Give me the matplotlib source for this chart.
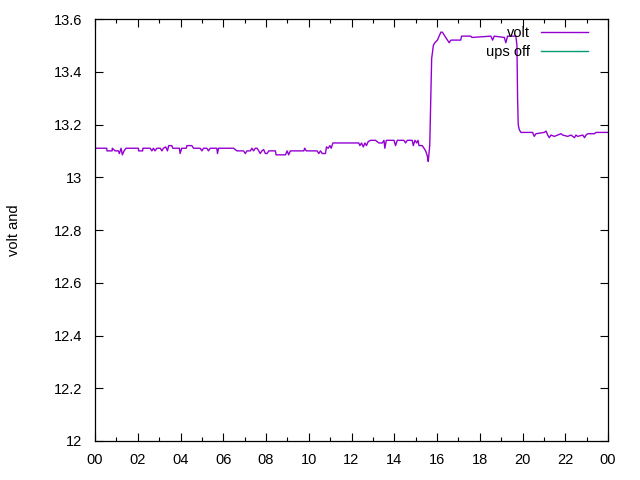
import matplotlib
matplotlib.use("Agg")
import matplotlib.pyplot as plt
from matplotlib.ticker import MultipleLocator, FixedLocator

plt.rcParams['font.family'] = ['Liberation Sans', 'DejaVu Sans']

# hours since midnight, battery voltage
hours = [0.0, 0.55, 0.56, 0.80, 0.81, 0.94, 1.09, 1.14, 1.22, 1.28, 1.36, 1.45,
         2.03, 2.04, 2.23, 2.24, 2.58, 2.66, 2.73, 2.81, 2.89, 3.05, 3.13, 3.20,
         3.31, 3.39, 3.45, 3.59, 3.64, 3.95, 3.98, 4.06, 4.27, 4.30, 4.53, 4.61,
         4.92, 5.00, 5.08, 5.23, 5.31, 5.39, 5.70, 5.73, 5.78, 6.48, 6.56, 6.64,
         6.95, 7.03, 7.11, 7.27, 7.34, 7.42, 7.50, 7.58, 7.66, 7.73, 7.81, 7.89,
         7.97, 8.05, 8.13, 8.44, 8.47, 8.91, 8.99, 9.06, 9.14, 9.77, 9.81, 9.88,
         10.39, 10.47, 10.55, 10.63, 10.78, 10.83, 10.91, 10.99, 11.05, 11.13,
         12.34, 12.39, 12.47, 12.55, 12.63, 12.70, 12.78, 12.89, 13.13, 13.20,
         13.28, 13.44, 13.52, 13.56, 13.63, 13.99, 14.06, 14.14, 14.45, 14.53,
         14.61, 14.84, 14.89, 14.97, 15.05, 15.11, 15.16, 15.31, 15.39, 15.47,
         15.55, 15.59, 15.66, 15.71, 15.75, 15.83, 15.90, 16.02, 16.18, 16.25,
         16.33, 16.49, 16.57, 16.65, 17.11, 17.15, 17.58, 17.63, 18.52, 18.60,
         18.68, 19.15, 19.22, 19.30, 19.69, 19.74, 19.77, 19.80, 19.85, 19.93,
         20.47, 20.55, 20.63, 21.02, 21.10, 21.18, 21.25, 21.33, 21.49, 21.65,
         21.80, 21.88, 22.11, 22.27, 22.43, 22.50, 22.58, 22.82, 22.90, 22.97,
         23.05, 23.36, 23.44, 24.0]
volt = [13.11, 13.11, 13.10, 13.10, 13.11, 13.10, 13.10, 13.09, 13.11, 13.085, 13.10, 13.11,
        13.11, 13.10, 13.10, 13.11, 13.11, 13.10, 13.11, 13.10, 13.11, 13.11, 13.10, 13.11,
        13.115, 13.10, 13.12, 13.12, 13.11, 13.11, 13.09, 13.11, 13.11, 13.12, 13.12, 13.11,
        13.11, 13.10, 13.11, 13.11, 13.10, 13.11, 13.11, 13.09, 13.11, 13.11, 13.105, 13.10,
        13.10, 13.09, 13.10, 13.10, 13.11, 13.10, 13.11, 13.11, 13.10, 13.09, 13.10, 13.105,
        13.09, 13.09, 13.10, 13.10, 13.085, 13.085, 13.10, 13.085, 13.10, 13.10, 13.11, 13.10,
        13.10, 13.09, 13.10, 13.09, 13.09, 13.115, 13.11, 13.12, 13.11, 13.13,
        13.13, 13.12, 13.13, 13.115, 13.13, 13.12, 13.135, 13.14, 13.14, 13.135,
        13.13, 13.13, 13.14, 13.11, 13.14, 13.14, 13.12, 13.14, 13.14, 13.13,
        13.14, 13.14, 13.12, 13.14, 13.13, 13.14, 13.12, 13.12, 13.11, 13.10,
        13.08, 13.06, 13.12, 13.30, 13.45, 13.50, 13.51, 13.52, 13.55, 13.55,
        13.54, 13.52, 13.51, 13.52, 13.52, 13.535, 13.535, 13.53, 13.535, 13.52,
        13.535, 13.53, 13.51, 13.535, 13.535, 13.50, 13.30, 13.20, 13.18, 13.17,
        13.17, 13.155, 13.165, 13.17, 13.175, 13.16, 13.15, 13.16, 13.155, 13.16,
        13.165, 13.16, 13.155, 13.16, 13.15, 13.16, 13.155, 13.16, 13.15, 13.16,
        13.165, 13.165, 13.17, 13.17]
ups_off_hours = []
ups_off_volt = []

xticklabels = ['00', '02', '04', '06', '08', '10', '12', '14', '16', '18', '20', '22', '00']
yticks = [12, 12.2, 12.4, 12.6, 12.8, 13, 13.2, 13.4, 13.6]
yticklabels = ['12', '12.2', '12.4', '12.6', '12.8', '13', '13.2', '13.4', '13.6']

fig = plt.figure(figsize=(6.4, 4.8), dpi=100)
ax = fig.add_axes([95/640, 1 - 441/480, (608-95)/640, (441-19)/480])

ax.plot(hours, volt, color='#9400d3', lw=1, label='volt')
ax.plot(ups_off_hours, ups_off_volt, color='#009e73', lw=1, label='ups off')

ax.set_xlim(0, 24)
ax.set_ylim(12, 13.6)
ax.xaxis.set_major_locator(FixedLocator(range(0, 25, 2)))
ax.set_xticklabels(xticklabels)
ax.xaxis.set_minor_locator(MultipleLocator(1))
ax.yaxis.set_major_locator(FixedLocator(yticks))
ax.set_yticklabels(yticklabels)

ax.tick_params(which='both', direction='in', top=True, right=True, labelsize=10.5, width=0.8)
ax.tick_params(which='major', length=6, pad=9)
ax.tick_params(which='minor', length=3)
for s in ax.spines.values():
    s.set_linewidth(0.9)

ax.set_ylabel('volt and', fontsize=10.5, labelpad=24)

leg = ax.legend(loc='upper right', frameon=False, fontsize=10.5, markerfirst=False,
                handlelength=3.2, borderaxespad=0.1, labelspacing=0.35,
                bbox_to_anchor=(0.975, 1.0))
for t in leg.get_texts():
    t.set_ha('right')

fig.savefig('out.png', dpi=100)
